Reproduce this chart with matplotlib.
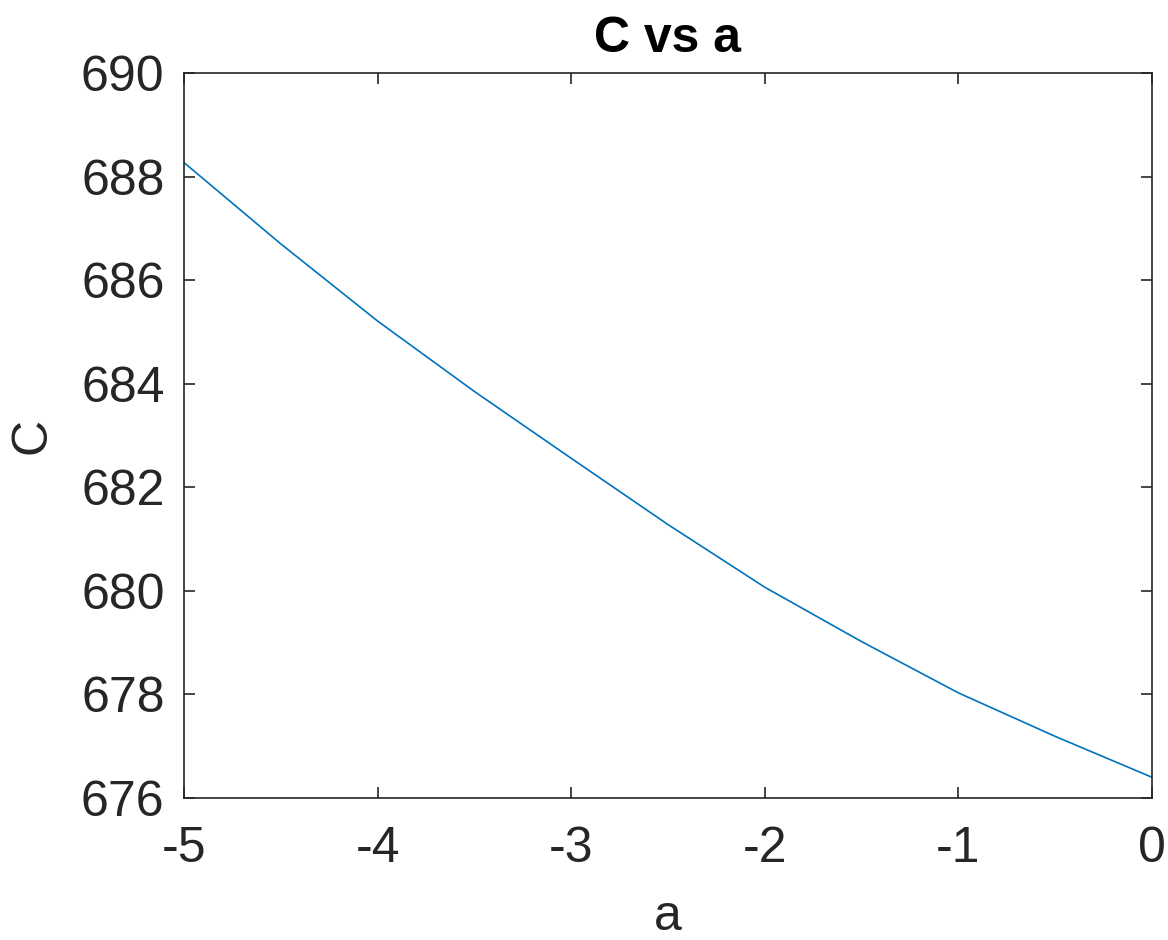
import matplotlib
matplotlib.use("Agg")
import matplotlib.pyplot as plt

# values
a_vals = [-5.0, -4.5, -4.0, -3.5, -3.0, -2.5, -2.0, -1.5, -1.0, -0.5, 0.0]
c_vals = [688.27, 686.70, 685.21, 683.85, 682.56, 681.28, 680.07, 679.02, 678.03, 677.19, 676.40]

x_ticks = [-5, -4, -3, -2, -1, 0]
y_ticks = [676, 678, 680, 682, 684, 686, 688, 690]

plt.rcParams['font.family'] = ['Liberation Sans', 'DejaVu Sans']
axis_col = '#262626'

fig = plt.figure(figsize=(11.68, 9.4), dpi=100)
ax = fig.add_axes([184/1168, 1 - 798/940, (1152-184)/1168, (798-73)/940])

ax.plot(a_vals, c_vals, color='#0072BD', linewidth=1.2)

ax.set_xlim(-5, 0)
ax.set_ylim(676, 690)
ax.set_xticks(x_ticks)
ax.set_yticks(y_ticks)
ax.set_xticklabels([str(t) for t in x_ticks])
ax.set_yticklabels([str(t) for t in y_ticks])

ax.tick_params(direction='in', length=8, width=1.2, colors=axis_col,
               labelsize=36, top=True, right=True)
ax.tick_params(axis='x', pad=20)
ax.tick_params(axis='y', pad=14)
for s in ax.spines.values():
    s.set_color(axis_col)
    s.set_linewidth(1.2)

ax.set_xlabel('a', fontsize=36, color=axis_col, labelpad=16)
ax.set_ylabel('C', fontsize=36, color=axis_col, labelpad=18)
ax.set_title('C vs a', fontsize=36, fontweight='bold', color='black', pad=15)

fig.savefig('out.png', dpi=100)
